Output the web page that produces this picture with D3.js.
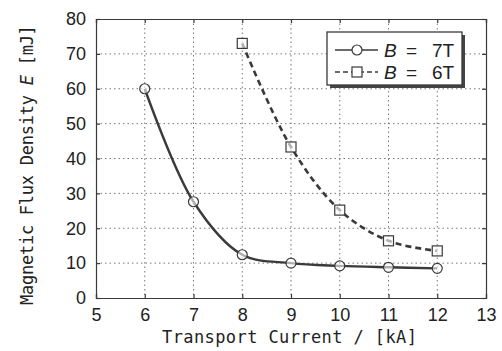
<!DOCTYPE html>
<html>
<head>
<meta charset="utf-8">
<script src="https://cdn.jsdelivr.net/npm/d3@7"></script>
<style>
  body { margin: 0; background: #fff; }
  svg { display: block; }
</style>
</head>
<body>
<svg id="chart"></svg>
<script>
var currents7 = [6, 7, 8, 9, 10, 11, 12];
var energy7 = [60, 27.6, 12.4, 10, 9.2, 8.8, 8.5];
var currents6 = [8, 9, 10, 11, 12];
var energy6 = [73, 43.3, 25.2, 16.4, 13.5];
var xTicks = [5, 6, 7, 8, 9, 10, 11, 12, 13];
var yTicks = [0, 10, 20, 30, 40, 50, 60, 70, 80];

var w = 502, h = 351;
var pLeft = 96, pRight = 486, pTop = 19, pBottom = 298;
var ink = "#3a3a3a";

var svg = d3.select("#chart").attr("width", w).attr("height", h);

var x = d3.scaleLinear().domain([5, 13]).range([pLeft, pRight]);
var y = d3.scaleLinear().domain([0, 80]).range([pBottom, pTop]);

// grid
svg.append("g").selectAll("line").data(xTicks.slice(1, -1)).enter().append("line")
   .attr("x1", function(d) { return x(d); }).attr("x2", function(d) { return x(d); })
   .attr("y1", pTop).attr("y2", pBottom)
   .attr("stroke", "#777").attr("stroke-width", 1).attr("stroke-dasharray", "1.5,3");
svg.append("g").selectAll("line").data(yTicks.slice(1, -1)).enter().append("line")
   .attr("x1", pLeft).attr("x2", pRight)
   .attr("y1", function(d) { return y(d); }).attr("y2", function(d) { return y(d); })
   .attr("stroke", "#777").attr("stroke-width", 1).attr("stroke-dasharray", "1.5,3");

// axes with inward ticks
var xAxis = svg.append("g").attr("transform", "translate(0," + pBottom + ")")
   .call(d3.axisBottom(x).tickValues(xTicks).tickSize(-4).tickPadding(10));
var yAxis = svg.append("g").attr("transform", "translate(" + pLeft + ",0)")
   .call(d3.axisLeft(y).tickValues(yTicks).tickSize(-4).tickPadding(10));
svg.append("g").attr("transform", "translate(0," + pTop + ")")
   .call(d3.axisTop(x).tickValues(xTicks).tickSize(-4).tickFormat(""));
svg.append("g").attr("transform", "translate(" + pRight + ",0)")
   .call(d3.axisRight(y).tickValues(yTicks).tickSize(-4).tickFormat(""));

svg.selectAll(".domain, .tick line").attr("stroke", ink).attr("stroke-width", 1.2);
[xAxis, yAxis].forEach(function(a) {
  a.selectAll("text").attr("fill", "#222")
   .style("font-family", "'Liberation Sans', Arial, sans-serif").style("font-size", "18px");
});

// curves
var line = d3.line()
   .x(function(d) { return x(d[0]); })
   .y(function(d) { return y(d[1]); })
   .curve(d3.curveCatmullRom.alpha(0.5));

var pts7 = currents7.map(function(c, i) { return [c, energy7[i]]; });
var pts6 = currents6.map(function(c, i) { return [c, energy6[i]]; });

svg.append("path").datum(pts7).attr("d", line)
   .attr("fill", "none").attr("stroke", ink).attr("stroke-width", 2.4);
svg.append("path").datum(pts6).attr("d", line)
   .attr("fill", "none").attr("stroke", ink).attr("stroke-width", 2.6)
   .attr("stroke-dasharray", "6,4");

svg.append("g").selectAll("circle").data(pts7).enter().append("circle")
   .attr("cx", function(d) { return x(d[0]); })
   .attr("cy", function(d) { return y(d[1]); })
   .attr("r", 5).attr("fill", "#fff").attr("fill-opacity", 0.6)
   .attr("stroke", ink).attr("stroke-width", 1.2);
svg.append("g").selectAll("rect").data(pts6).enter().append("rect")
   .attr("x", function(d) { return x(d[0]) - 5; })
   .attr("y", function(d) { return y(d[1]) - 5; })
   .attr("width", 10).attr("height", 10).attr("fill", "#fff").attr("fill-opacity", 0.6)
   .attr("stroke", ink).attr("stroke-width", 1.2);

// legend
var lg = svg.append("g");
lg.append("rect").attr("x", 330).attr("y", 35).attr("width", 135).attr("height", 53).attr("fill", "#444");
lg.append("rect").attr("x", 327).attr("y", 32).attr("width", 135).attr("height", 53)
   .attr("fill", "#fff").attr("stroke", ink).attr("stroke-width", 1.3);
var legendRows = [
  { label: "7T", y: 50, dash: null, marker: "circle" },
  { label: "6T", y: 72, dash: "5,3", marker: "rect" }
];
legendRows.forEach(function(r) {
  lg.append("line").attr("x1", 335).attr("x2", 378).attr("y1", r.y).attr("y2", r.y)
    .attr("stroke", ink).attr("stroke-width", 1.6).attr("stroke-dasharray", r.dash);
  if (r.marker == "circle") {
    lg.append("circle").attr("cx", 357).attr("cy", r.y).attr("r", 5)
      .attr("fill", "#fff").attr("stroke", ink).attr("stroke-width", 1.2);
  } else {
    lg.append("rect").attr("x", 352).attr("y", r.y - 5).attr("width", 10).attr("height", 10)
      .attr("fill", "#fff").attr("stroke", ink).attr("stroke-width", 1.2);
  }
  var t = lg.append("text").attr("y", r.y + 7)
    .attr("fill", "#222").style("font-family", "'Liberation Sans', Arial, sans-serif")
    .style("font-size", "19px");
  t.append("tspan").attr("x", 384).text("B").style("font-style", "italic");
  t.append("tspan").attr("x", 406).text("=");
  t.append("tspan").attr("x", 432).text(r.label);
});

// axis labels
var mono = "'DejaVu Sans Mono', monospace";
svg.append("text").attr("x", 162).attr("y", 343)
   .attr("textLength", 255).attr("lengthAdjust", "spacing")
   .attr("fill", "#222").style("font-family", mono).style("font-size", "17px")
   .text("Transport Current / [kA]");

var yl = svg.append("text")
   .attr("transform", "translate(33,305) rotate(-90)")
   .attr("fill", "#222").style("font-family", mono).style("font-size", "17px")
   .style("letter-spacing", "-0.25px");
yl.append("tspan").text("Magnetic Flux Density ");
yl.append("tspan").text("E").style("font-style", "italic");
yl.append("tspan").text(" [mJ]");
</script>
</body>
</html>
